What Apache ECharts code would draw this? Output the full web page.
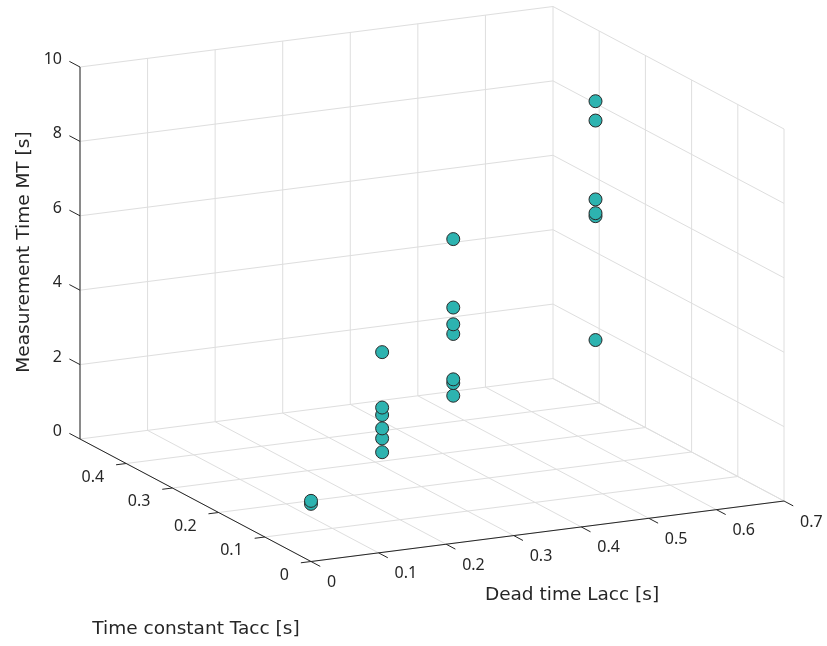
<!DOCTYPE html>
<html>
<head>
<meta charset="utf-8">
<script src="https://cdn.jsdelivr.net/npm/echarts@6/dist/echarts.min.js"></script>
<style>
html,body{margin:0;padding:0;background:#fff;}
#chart{width:827px;height:646px;}
</style>
</head>
<body>
<div id="chart"></div>
<script>
// ---- data -------------------------------------------------------------
// Dead time Lacc [s], time constant Tacc [s] and measurement time MT [s]
const deadTime = [
  0, 0,
  0.175, 0.175, 0.175, 0.175, 0.175, 0.175,
  0.35, 0.35, 0.35, 0.35, 0.35, 0.35, 0.35,
  0.7, 0.7, 0.7, 0.7, 0.7, 0.7
];
const timeConst = [
  0, 0,
  0.102, 0.102, 0.102, 0.102, 0.102, 0.102,
  0.204, 0.204, 0.204, 0.204, 0.204, 0.204, 0.204,
  0.408, 0.408, 0.408, 0.408, 0.408, 0.408
];
const measTime = [
  1.63, 1.55,
  4.55, 3.06, 2.86, 2.50, 2.23, 1.86,
  6.51, 4.67, 4.22, 3.96, 2.74, 2.64, 2.30,
  8.06, 7.54, 5.42, 5.05, 4.97, 1.64
];

// ---- axes ---------------------------------------------------------------
const lRange = [0, 0.7];
const tRange = [0, 0.5];
const zRange = [0, 10];
const lTicks = [0, 0.1, 0.2, 0.3, 0.4, 0.5, 0.6, 0.7];
const tTicks = [0, 0.1, 0.2, 0.3, 0.4];
const zTicks = [0, 2, 4, 6, 8, 10];
const lTickLabels = ['0', '0.1', '0.2', '0.3', '0.4', '0.5', '0.6', '0.7'];
const tTickLabels = ['0', '0.1', '0.2', '0.3', '0.4'];
const zTickLabels = ['0', '2', '4', '6', '8', '10'];
const lTitle = 'Dead time Lacc [s]';
const tTitle = 'Time constant Tacc [s]';
const zTitle = 'Measurement Time MT [s]';

// ---- orthographic view of the plot box -----------------------------------
// Where the corner (Lacc min, Tacc min, MT min) lands on the view plane and
// how far each full axis range reaches across it.
const view = {
  origin: [311, 561.5],
  lSpan: [473, -60.5],
  tSpan: [-231, -122.5],
  zSpan: [0, -372]
};
function proj(l, t, z) {
  const a = (l - lRange[0]) / (lRange[1] - lRange[0]);
  const b = (t - tRange[0]) / (tRange[1] - tRange[0]);
  const c = (z - zRange[0]) / (zRange[1] - zRange[0]);
  return [
    view.origin[0] + a * view.lSpan[0] + b * view.tSpan[0] + c * view.zSpan[0],
    view.origin[1] + a * view.lSpan[1] + b * view.tSpan[1] + c * view.zSpan[1]
  ];
}

const TICK_FONT = '16px "Noto Sans", "DejaVu Sans", sans-serif';
const TITLE_FONT = '18.5px "DejaVu Sans", "Noto Sans", sans-serif';
const AXIS_COLOR = '#262626';
const GRID_COLOR = '#dedede';

// ---- segments: grid on the three back planes, axis lines and ticks -------
const gridSegs = [];
const axisSegs = [];
const L0 = lRange[0], L1 = lRange[1], T0 = tRange[0], T1 = tRange[1], Z0 = zRange[0], Z1 = zRange[1];
// floor
lTicks.forEach(l => gridSegs.push([l, T0, Z0, l, T1, Z0]));
tTicks.forEach(t => gridSegs.push([L0, t, Z0, L1, t, Z0]));
// back wall at Tacc max
lTicks.forEach(l => gridSegs.push([l, T1, Z0, l, T1, Z1]));
zTicks.forEach(z => gridSegs.push([L0, T1, z, L1, T1, z]));
// side wall at Lacc max
tTicks.forEach(t => gridSegs.push([L1, t, Z0, L1, t, Z1]));
zTicks.forEach(z => gridSegs.push([L1, T0, z, L1, T1, z]));
// axis lines
axisSegs.push([L0, T0, Z0, L1, T0, Z0]);
axisSegs.push([L0, T0, Z0, L0, T1, Z0]);
axisSegs.push([L0, T1, Z0, L0, T1, Z1]);
// tick marks
lTicks.forEach(l => axisSegs.push([l, T0, Z0, l, T0 - 0.02, Z0]));
tTicks.forEach(t => axisSegs.push([L0, t, Z0, L0 - 0.015, t, Z0]));
zTicks.forEach(z => axisSegs.push([L0, T1, z, L0, T1 + 0.023, z]));

// ---- tick labels ------------------------------------------------------
const labels = [];
lTicks.forEach((l, i) => {
  const p = proj(l, T0, Z0);
  labels.push({ text: lTickLabels[i], x: p[0] + 16, y: p[1] + 21, align: 'left' });
});
tTicks.forEach((t, i) => {
  const p = proj(L0, t, Z0);
  labels.push({ text: tTickLabels[i], x: p[0] - 22, y: p[1] + 13.5, align: 'right' });
});
zTicks.forEach((z, i) => {
  const p = proj(L0, T1, z);
  labels.push({ text: zTickLabels[i], x: p[0] - 18, y: p[1] - 7.5, align: 'right' });
});

// ---- scatter points, nearer (higher) markers drawn last -----------------
const order = measTime.map((_, i) => i).sort((a, b) => measTime[a] - measTime[b]);
const points = order.map(i => proj(deadTime[i], timeConst[i], measTime[i]));

function segSeries(segs, color, width, z) {
  return {
    type: 'custom',
    coordinateSystem: 'cartesian2d',
    clip: false,
    silent: true,
    z: z,
    data: segs.map((s, i) => [i]),
    renderItem: function (params, api) {
      const s = segs[params.dataIndex];
      const p1 = api.coord(proj(s[0], s[1], s[2]));
      const p2 = api.coord(proj(s[3], s[4], s[5]));
      return {
        type: 'line',
        shape: { x1: p1[0], y1: p1[1], x2: p2[0], y2: p2[1] },
        style: { stroke: color, lineWidth: width }
      };
    }
  };
}

const chart = echarts.init(document.getElementById('chart'), null, { renderer: 'canvas' });
chart.setOption({
  animation: false,
  backgroundColor: '#ffffff',
  grid: { left: 0, right: 0, top: 0, bottom: 0 },
  xAxis: { type: 'value', min: 0, max: 827, show: false },
  yAxis: { type: 'value', min: 0, max: 646, inverse: true, show: false },
  series: [
    segSeries(gridSegs, GRID_COLOR, 1, 1),
    segSeries(axisSegs, AXIS_COLOR, 1, 2),
    {
      type: 'custom',
      coordinateSystem: 'cartesian2d',
      clip: false,
      silent: true,
      z: 3,
      data: labels.map((s, i) => [i]),
      renderItem: function (params, api) {
        const lb = labels[params.dataIndex];
        const p = api.coord([lb.x, lb.y]);
        return {
          type: 'text',
          x: p[0], y: p[1],
          style: {
            text: lb.text, fill: AXIS_COLOR, font: TICK_FONT,
            align: lb.align, verticalAlign: 'middle'
          }
        };
      }
    },
    {
      type: 'scatter',
      z: 4,
      symbol: 'circle',
      symbolSize: 13,
      data: points,
      itemStyle: { color: '#2db3b0', borderColor: '#2a2a2a', borderWidth: 1, opacity: 1 }
    }
  ],
  graphic: [
    { type: 'text', x: 572, y: 595, style: { text: lTitle, fill: AXIS_COLOR, font: TITLE_FONT, align: 'center', verticalAlign: 'middle' } },
    { type: 'text', x: 196, y: 629, style: { text: tTitle, fill: AXIS_COLOR, font: TITLE_FONT, align: 'center', verticalAlign: 'middle' } },
    { type: 'text', x: 24, y: 252, rotation: Math.PI / 2, style: { text: zTitle, fill: AXIS_COLOR, font: TITLE_FONT, align: 'center', verticalAlign: 'middle' } }
  ]
});
</script>
</body>
</html>
